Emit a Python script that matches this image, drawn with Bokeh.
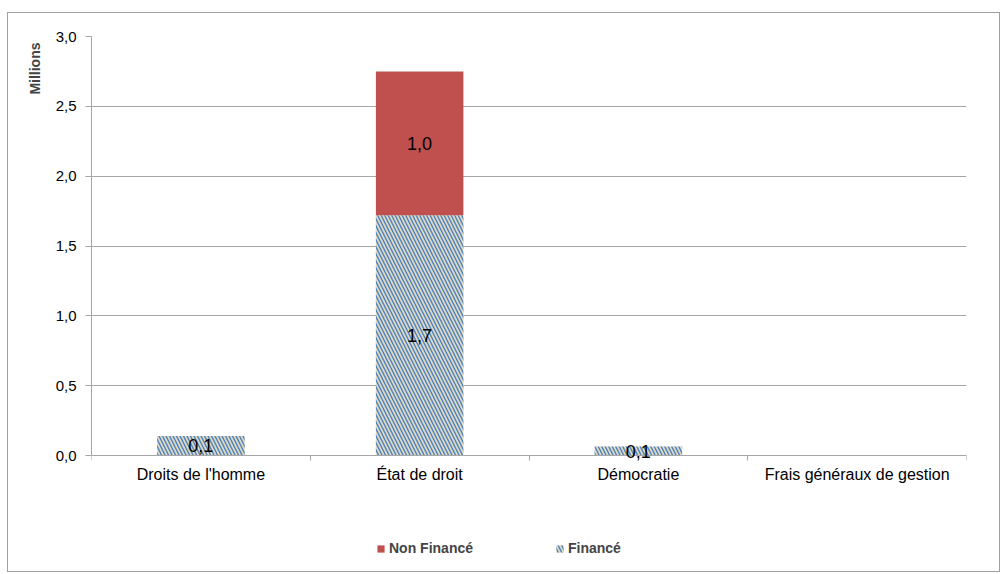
from bokeh.plotting import figure
from bokeh.models import (ColumnDataSource, FixedTicker, CustomJSTickFormatter, LabelSet,
                          Legend, LegendItem, Range1d, Title)
from bokeh.core.properties import value
from bokeh.embed import file_html
from bokeh.resources import INLINE

categories = ["Droits de l'homme", "État de droit", "Démocratie", "Frais généraux de gestion"]
finance = [0.14, 1.72, 0.064, 0.0]
non_finance = [0.0, 1.03, 0.0, 0.0]
y_ticks = [0.0, 0.5, 1.0, 1.5, 2.0, 2.5, 3.0]

FONT = "Liberation Sans"
RED = "#c0504d"
BEIGE = "#ddd9c3"
BLUE = "#4f81bd"
GRID = "#a6a6a6"

# layout (page pixels): chart box starts at (7, 12); frame top 35, value 0 at 454, frame bottom 569
OX, OY = 7, 12
TOP, ZERO, BOTTOM = 35, 454, 569
W, H = 1000 - OX, 572 - OY
y_max = 3.0
y_min = -y_max * (BOTTOM - ZERO) / (ZERO - TOP)

xs = list(range(len(categories)))
tops = [f + n for f, n in zip(finance, non_finance)]
src = ColumnDataSource(dict(x=xs, fin=finance, nf_bottom=finance, nf_top=tops))

p = figure(width=W, height=H, output_backend="svg", toolbar_location=None,
           x_range=Range1d(-0.5, len(categories) - 0.5), y_range=Range1d(y_min, y_max),
           min_border_left=90 - OX, min_border_right=35, min_border_top=TOP - OY,
           min_border_bottom=OY + H - BOTTOM)
p.margin = (OY, 0, 0, OX)
p.outline_line_color = None
p.background_fill_color = "white"
p.border_fill_color = "white"
p.styles = {"border": "1px solid #a0a0a0"}

r_fin = p.vbar(x="x", width=0.4, bottom=0, top="fin", source=src,
               fill_color=BEIGE, line_color=None,
               hatch_pattern="left_diagonal_line", hatch_color=BLUE,
               hatch_scale=7, hatch_weight=1.4)
r_nf = p.vbar(x="x", width=0.4, bottom="nf_bottom", top="nf_top", source=src,
              fill_color=RED, line_color=None)

# data labels
lx, ly, lt = [], [], []
for i in xs:
    if finance[i] > 0:
        lx.append(i); ly.append(finance[i] / 2); lt.append(f"{finance[i]:.1f}".replace(".", ","))
    if non_finance[i] > 0:
        lx.append(i); ly.append(finance[i] + non_finance[i] / 2)
        lt.append(f"{non_finance[i]:.1f}".replace(".", ","))
lsrc = ColumnDataSource(dict(x=lx, y=ly, t=lt))
p.add_layout(LabelSet(x="x", y="y", text="t", source=lsrc, text_align="center",
                      text_baseline="middle", text_font=value(FONT), text_font_size="18px",
                      text_color="black"))

# x axis drawn at value 0 inside the frame
p.xaxis.fixed_location = 0
p.xaxis.ticker = FixedTicker(ticks=xs, minor_ticks=[i - 0.5 for i in range(len(categories) + 1)])
p.xaxis.major_label_overrides = {i: c for i, c in enumerate(categories)}
p.xaxis.major_tick_out = 0
p.xaxis.major_tick_in = 0
p.xaxis.minor_tick_out = 5
p.xaxis.minor_tick_in = 0
p.xaxis.minor_tick_line_color = GRID
p.xaxis.axis_line_color = GRID
p.xaxis.major_label_text_font = FONT
p.xaxis.major_label_text_font_size = "16px"
p.xaxis.major_label_text_color = "black"
p.xaxis.major_label_standoff = 5

p.yaxis.bounds = (0, y_max)
p.yaxis.ticker = FixedTicker(ticks=y_ticks, minor_ticks=[])
p.yaxis.formatter = CustomJSTickFormatter(code="return tick.toFixed(1).replace('.', ',');")
p.yaxis.major_tick_out = 6
p.yaxis.major_tick_in = 0
p.yaxis.major_tick_line_color = GRID
p.yaxis.axis_line_color = GRID
p.yaxis.major_label_text_font = FONT
p.yaxis.major_label_text_font_size = "15px"
p.yaxis.major_label_text_color = "black"
p.yaxis.major_label_standoff = 9

p.xgrid.grid_line_color = None
p.ygrid.grid_line_color = GRID
p.ygrid.ticker = FixedTicker(ticks=y_ticks)

p.add_layout(Title(text="Millions", align="right", text_font=FONT, text_font_size="14px",
                   text_font_style="bold", standoff=20, offset=6), "left")

legend = Legend(items=[LegendItem(label="Non Financé", renderers=[r_nf]),
                       LegendItem(label="Financé", renderers=[r_fin])],
                orientation="horizontal", location=(285, 14),
                label_text_font=FONT, label_text_font_size="14px", label_text_font_style="bold",
                glyph_width=9, glyph_height=9, spacing=58, label_standoff=4, label_width=108,
                background_fill_alpha=0, border_line_color=None, padding=0, margin=0)
p.add_layout(legend, "center")

open("out.html", "w").write(file_html(p, INLINE))
